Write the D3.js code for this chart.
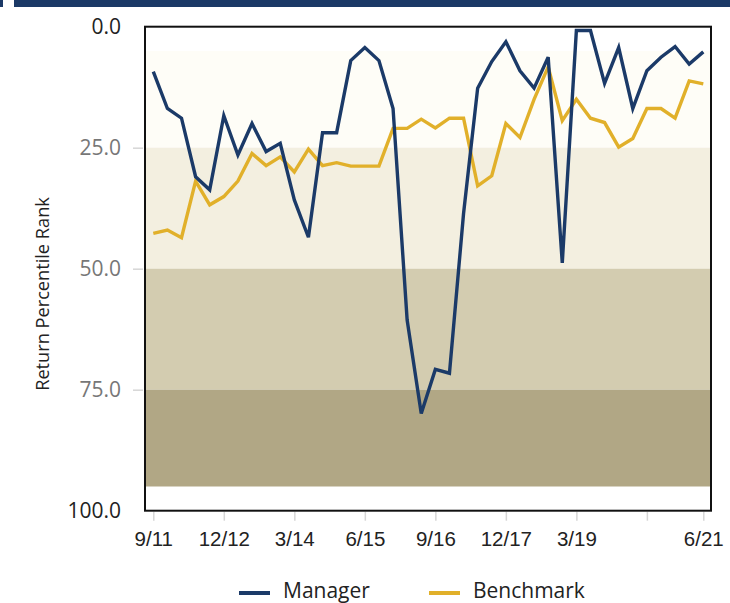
<!DOCTYPE html>
<html>
<head>
<meta charset="utf-8">
<script src="https://cdn.jsdelivr.net/npm/d3@7"></script>
<style>
  html, body { margin: 0; padding: 0; background: #fff; }
  svg { display: block; font-family: "Open Sans", "Noto Sans", sans-serif; }
</style>
</head>
<body>
<svg id="chart" width="730" height="603"></svg>
<script>
// Quarter-end dates, 9/11 through 6/21
const quarters = [
  "9/11","12/11","3/12","6/12","9/12","12/12","3/13","6/13","9/13","12/13",
  "3/14","6/14","9/14","12/14","3/15","6/15","9/15","12/15","3/16","6/16",
  "9/16","12/16","3/17","6/17","9/17","12/17","3/18","6/18","9/18","12/18",
  "3/19","6/19","9/19","12/19","3/20","6/20","9/20","12/20","3/21","6/21"
];

// Return percentile rank (lower is better)
const manager = [
  9.3, 16.9, 18.9, 31.0, 33.7, 18.4, 26.5, 20.0, 25.8, 24.1,
  35.8, 43.5, 21.9, 21.9, 7.0, 4.3, 7.0, 16.9, 60.6, 79.9,
  70.8, 71.6, 38.6, 12.7, 7.2, 3.1, 9.1, 12.7, 6.3, 48.8,
  0.8, 0.8, 11.7, 4.3, 16.9, 9.1, 6.3, 4.1, 7.7, 5.2
];
const benchmark = [
  42.7, 42.0, 43.6, 31.9, 36.8, 35.1, 31.9, 26.2, 28.7, 26.9,
  30.0, 25.3, 28.7, 28.1, 28.8, 28.8, 28.8, 21.0, 21.0, 19.1,
  20.9, 18.9, 18.9, 32.9, 30.8, 20.0, 22.9, 15.0, 8.3, 19.4,
  15.0, 18.9, 19.8, 24.9, 23.1, 16.9, 16.9, 18.9, 11.2, 11.8
];

// Quartile shading bands (percentile ranges)
const bandRanges = [[5, 25], [25, 50], [50, 75], [75, 95]];
const bandColors = ["#fefdf7", "#f3efe0", "#d3ccb0", "#b1a785"];

// Axis labels
const yTicks = [0, 25, 50, 75, 100];
const xTickIndex = [0, 5, 10, 15, 20, 25, 30, 35, 39];
const xTickLabels = ["9/11", "12/12", "3/14", "6/15", "9/16", "12/17", "3/19", "", "6/21"];

const seriesNames = ["Manager", "Benchmark"];
const seriesColors = ["#1b3a68", "#e1b02a"];

const svg = d3.select("#chart");

// Plot frame
const frame = { left: 145, right: 711, top: 26.7, bottom: 510.7 };

const x = d3.scaleLinear().domain([0, quarters.length - 1]).range([153.3, 703.3]);
const y = d3.scaleLinear().domain([0, 100]).range([frame.top, frame.bottom]);

// Header strip
svg.append("rect").attr("x", 0).attr("y", 0).attr("width", 3).attr("height", 7).attr("fill", "#1b3966");
svg.append("rect").attr("x", 14).attr("y", 0).attr("width", 716).attr("height", 7).attr("fill", "#1b3966");

// Bands
svg.append("g").selectAll("rect")
  .data(bandRanges)
  .join("rect")
  .attr("x", frame.left)
  .attr("width", frame.right - frame.left)
  .attr("y", d => y(d[0]))
  .attr("height", d => y(d[1]) - y(d[0]))
  .attr("fill", (d, i) => bandColors[i]);

// Y axis
const yAxis = svg.append("g")
  .attr("transform", `translate(${frame.left - 2},0)`)
  .call(d3.axisLeft(y).tickValues(yTicks).tickFormat(d3.format(".1f")).tickSize(10).tickPadding(12));
yAxis.select(".domain").remove();
yAxis.selectAll(".tick line").attr("stroke", "#d6d6d6").attr("stroke-width", 1.5)
  .attr("display", d => (d === 0 || d === 100) ? "none" : null);
yAxis.selectAll(".tick text")
  .attr("font-size", 21)
  .attr("font-family", "'Open Sans', sans-serif")
  .attr("fill", d => (d === 0 || d === 100) ? "#222" : "#777");

// X axis
const xAxis = svg.append("g")
  .attr("transform", `translate(0,${frame.bottom + 1})`)
  .call(d3.axisBottom(x).tickValues(xTickIndex)
    .tickFormat((d, i) => xTickLabels[i]).tickSize(9).tickPadding(10.5));
xAxis.select(".domain").remove();
xAxis.selectAll(".tick line").attr("stroke", "#d6d6d6").attr("stroke-width", 1.5);
xAxis.selectAll(".tick text").attr("font-size", 20.5).attr("fill", "#222");

// Y axis title
svg.append("text")
  .attr("transform", "translate(49,294) rotate(-90)")
  .attr("text-anchor", "middle")
  .attr("font-size", 18.2)
  .attr("fill", "#222")
  .text("Return Percentile Rank");

// Lines
const line = d3.line().x((d, i) => x(i)).y(d => y(d)).curve(d3.curveLinear);
[benchmark, manager].forEach((s, k) => {
  svg.append("path")
    .datum(s)
    .attr("fill", "none")
    .attr("stroke", seriesColors[1 - k])
    .attr("stroke-width", 3.4)
    .attr("stroke-linejoin", "miter")
    .attr("d", line);
});

// Frame border
svg.append("rect")
  .attr("x", frame.left).attr("y", frame.top)
  .attr("width", frame.right - frame.left).attr("height", frame.bottom - frame.top)
  .attr("fill", "none").attr("stroke", "#111").attr("stroke-width", 2);

// Legend
const legendX = [239, 429];
const legend = svg.append("g");
seriesNames.forEach((name, i) => {
  legend.append("line")
    .attr("x1", legendX[i]).attr("x2", legendX[i] + 31)
    .attr("y1", 593).attr("y2", 593)
    .attr("stroke", seriesColors[i]).attr("stroke-width", 4);
  legend.append("text")
    .attr("x", legendX[i] + 44).attr("y", 598)
    .attr("font-size", 21).attr("fill", "#222")
    .text(name);
});
</script>
</body>
</html>
